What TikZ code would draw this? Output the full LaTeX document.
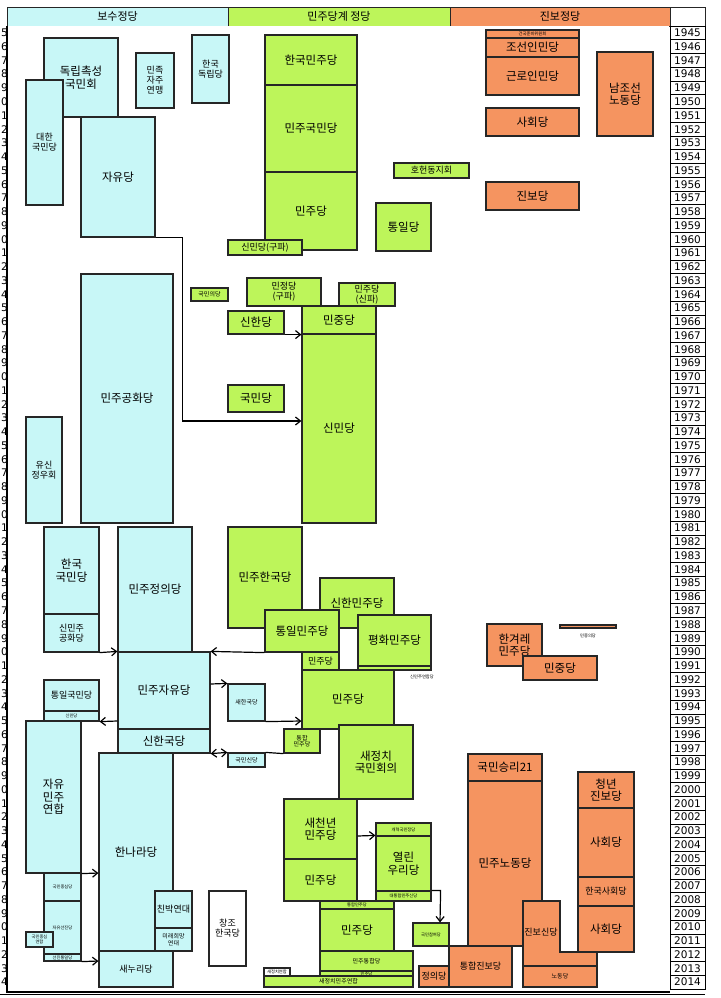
\documentclass[tikz,border=0pt]{standalone}
\usepackage{fontspec}
\setmainfont{Noto Sans CJK KR}
\newfontfamily\yrfont{DejaVu Sans}
\usetikzlibrary{arrows.meta}
\definecolor{cyb}{HTML}{C8F7F7}
\definecolor{grb}{HTML}{BDF55A}
\definecolor{orb}{HTML}{F59460}
\tikzset{
 bx/.style={draw=black!85,line width=1.2pt,inner sep=0pt,align=center,font=\fontsize{11.5}{12.5}\selectfont},
 cy/.style={bx,fill=cyb}, gr/.style={bx,fill=grb}, ob/.style={bx,fill=orb}, wh/.style={bx,fill=white},
 sm/.style={font=\fontsize{6}{6.5}\selectfont}, ti/.style={font=\fontsize{4.3}{4.6}\selectfont},
 md/.style={font=\fontsize{9}{10}\selectfont},
 ar/.style={line width=1.2pt,-{Straight Barb[length=5pt,width=8pt]}},
 ln/.style={line width=1.2pt}
}
\newcommand\pb[7]{\node[#1,minimum width={#5pt-#3pt},minimum height={#6pt-#4pt}] (#2) at ({(#3+#5)/2},{(#4+#6)/2}) {#7};}
\begin{document}
\begin{tikzpicture}[x=1pt,y=-1pt]
\useasboundingbox (0,0) rectangle (720,998);
\fill[white] (0,0) rectangle (720,998);
% header
\pb{cy,font=\fontsize{11}{12}\selectfont,line width=0.8pt}{h1}{7}{7}{228}{26}{보수정당}
\pb{gr,font=\fontsize{11}{12}\selectfont,line width=0.8pt}{h2}{228}{7}{450}{26}{민주당계 정당}
\pb{ob,font=\fontsize{11}{12}\selectfont,line width=0.8pt}{h3}{450}{7}{670}{26}{진보정당}
\pb{wh,line width=0.8pt}{h4}{670}{7}{705}{26}{}
% years
\foreach \i in {0,...,69}{
  \pgfmathtruncatemacro\yr{1945+\i}
  \pgfmathsetmacro\yt{26+13.757*\i}
  \pgfmathsetmacro\yb{26+13.757*(\i+1)}
  \node[draw,line width=0.7pt,minimum width=35pt,minimum height=13.757pt,inner sep=0pt,font=\yrfont\fontsize{10.5}{11}\selectfont] (y\i) at (687.5,{(\yt+\yb)/2}) {\yr};
  \pgfmathtruncatemacro\dg{mod(\yr,10)}
  \node[inner sep=0pt,font=\yrfont\fontsize{10.5}{11}\selectfont,anchor=east] (d\i) at (8,{(\yt+\yb)/2}) {\dg};
}
\fill[white] (8,26) rectangle (669,991);
\draw[line width=1.2pt] (7,26) -- (7,992) -- (670,992);
\draw[line width=0.6pt] (0,994) -- (705,994);
% conservative
\pb{cy}{dokrip}{44}{38}{118}{117}{독립촉성\\국민회}
\pb{cy,md}{minjok}{136}{53}{174}{108}{민족\\자주\\연맹}
\pb{cy,md}{handok}{192}{35}{229}{103}{한국\\독립당}
\pb{cy,md}{daehan}{26}{80}{63}{205}{대한\\국민당}
\pb{cy}{jayu}{81}{117}{155}{237}{자유당}
\pb{cy}{gonghwa}{81}{274}{173}{523}{민주공화당}
\pb{cy,md}{yusin}{26}{417}{62}{523}{유신\\정우회}
\pb{cy}{hanguk}{44}{527}{99}{614}{한국\\국민당}
\pb{cy,md}{sinminju}{44}{614}{99}{652}{신민주\\공화당}
\pb{cy}{jeongui}{118}{527}{192}{652}{민주정의당}
\pb{cy}{minja}{118}{652}{210}{729}{민주자유당}
\pb{cy}{sinhanguk}{118}{729}{210}{753}{신한국당}
\pb{cy,sm}{saehan}{228}{684}{265}{721}{새한국당}
\pb{cy,md}{tongilguk}{44}{680}{99}{711}{통일국민당}
\pb{cy,ti}{sinmin2}{44}{711}{99}{721}{신민당}
\pb{cy}{jamin}{26}{721}{81}{873}{자유\\민주\\연합}
\pb{cy,sm}{gukminsin}{228}{753}{265}{767}{국민신당}
\pb{cy}{hannara}{99}{753}{173}{951}{한나라당}
\pb{cy,md}{saenuri}{99}{951}{173}{987}{새누리당}
\pb{cy,md}{chinbak}{155}{891}{192}{928}{친박연대}
\pb{cy,sm}{mirae}{155}{928}{192}{951}{미래희망\\연대}
\pb{cy,ti}{jungsim}{44}{873}{81}{901}{국민중심당}
\pb{cy,ti}{seonjin}{44}{901}{81}{954}{자유선진당}
\pb{cy,ti}{seontong}{44}{954}{81}{961}{선진통일당}
\pb{cy,ti}{jungyeon}{26}{932}{53}{947}{국민중심\\연합}
\pb{wh,md}{changjo}{209}{891}{246}{966}{창조\\한국당}
% democratic
\pb{gr}{hanmin}{265}{35}{357}{85}{한국민주당}
\pb{gr}{minguk}{265}{85}{357}{172}{민주국민당}
\pb{gr}{minju1}{265}{172}{357}{250}{민주당}
\pb{gr,md}{sinmingu}{228}{240}{302}{255}{신민당(구파)}
\pb{gr,md}{hohun}{394}{163}{469}{178}{호헌동지회}
\pb{gr}{tongil}{376}{203}{431}{251}{통일당}
\pb{gr,sm}{gukui}{191}{288}{228}{301}{국민의당}
\pb{gr,md}{minjeong}{247}{278}{321}{306}{민정당\\(구파)}
\pb{gr,md}{minsin}{339}{283}{395}{306}{민주당\\(신파)}
\pb{gr}{minjung}{302}{306}{376}{334}{민중당}
\pb{gr}{sinhan}{228}{311}{284}{334}{신한당}
\pb{gr}{sinmin}{302}{334}{376}{523}{신민당}
\pb{gr}{gukmin}{228}{385}{284}{412}{국민당}
\pb{gr}{minhan}{228}{527}{302}{628}{민주한국당}
\pb{gr}{sinhanmin}{320}{578}{394}{628}{신한민주당}
\pb{gr}{tongilmin}{265}{610}{339}{652}{통일민주당}
\pb{gr}{pyeonghwa}{358}{615}{431}{666}{평화민주당}
\pb{gr}{sinyeon}{358}{666}{431}{670}{}
\node[ti,inner sep=0pt] (sinyeonl) at (422,677) {신민주연합당};
\pb{gr,md}{minju2}{302}{652}{339}{670}{민주당}
\pb{gr}{minju3}{302}{670}{394}{729}{민주당}
\pb{gr,sm}{tonghap1}{284}{729}{320}{753}{통합\\민주당}
\pb{gr}{saejeong}{339}{725}{413}{799}{새정치\\국민회의}
\pb{gr}{saecheon}{284}{799}{357}{859}{새천년\\민주당}
\pb{gr}{minju4}{284}{859}{357}{901}{민주당}
\pb{gr,ti}{gaehyeok}{376}{823}{431}{836}{개혁국민정당}
\pb{gr}{yeollin}{376}{836}{431}{891}{열린\\우리당}
\pb{gr,ti}{daetong}{376}{891}{431}{901}{대통합민주신당}
\pb{gr,ti}{tonghap2}{320}{901}{394}{909}{통합민주당}
\pb{gr}{minju5}{320}{909}{394}{951}{민주당}
\pb{gr,sm}{mintong}{320}{951}{413}{971}{민주통합당}
\pb{gr,ti}{minju6}{320}{971}{413}{976}{민주당}
\pb{gr,sm}{saejeongyeon}{264}{976}{413}{987}{새정치민주연합}
\pb{wh,ti}{saeyeon}{264}{968}{290}{976}{새정치연합}
\pb{gr,ti}{chamyeo}{413}{923}{449}{946}{국민참여당}
% progressive
\pb{ob,ti}{geonjun}{486}{30}{579}{38}{건국준비위원회}
\pb{ob}{joseon}{486}{38}{579}{57}{조선인민당}
\pb{ob}{geullo}{486}{57}{579}{95}{근로인민당}
\pb{ob}{namjo}{597}{52}{653}{136}{남조선\\노동당}
\pb{ob}{sahoe1}{486}{108}{579}{136}{사회당}
\pb{ob}{jinbo}{486}{182}{579}{210}{진보당}
\pb{ob}{hangyeore}{487}{624}{542}{666}{한겨레\\민주당}
\pb{ob}{minjung2}{523}{656}{597}{680}{민중당}
\pb{ob}{minjungui}{560}{625}{616}{628}{}
\node[ti,inner sep=0pt] (minjunguil) at (588,636) {민중의당};
\pb{ob}{seungri}{468}{754}{542}{781}{국민승리21}
\pb{ob}{minno}{468}{781}{542}{946}{민주노동당}
\pb{ob}{cheongnyeon}{578}{772}{634}{808}{청년\\진보당}
\pb{ob}{sahoe2}{578}{808}{634}{877}{사회당}
\pb{ob,md}{hansa}{578}{877}{634}{906}{한국사회당}
\pb{ob}{sahoe3}{578}{906}{634}{952}{사회당}
\draw[ob,fill=orb] (523,901) -- (560,901) -- (560,952) -- (597,952) -- (597,966) -- (523,966) -- cycle;
\node[md,inner sep=0pt] (jinbosin) at (541,932) {진보신당};
\pb{ob,sm}{nodong}{523}{966}{597}{987}{노동당}
\pb{ob,md}{tongjin}{449}{946}{512}{987}{통합진보당}
\pb{ob,md}{jeongui}{419}{966}{449}{987}{정의당}
% connectors
\draw[ar] (jayu.south east) -- ++(27,0) |- (sinmin.west|-0,421);
\draw[ar] (sinhan.south east) -- (minjung.south west);
\draw[ar] (sinminju.south east) -- (minja.north west);
\draw[ar] (tongilmin.south west) -- (minja.north east);
\draw[ar] (minja.east|-0,684) -- (saehan.north west);
\draw[ar] (saehan.south east) -- (minju3.west|-0,721);
\draw[ar] (minja.west|-0,721) -- (sinmin2.south east);
\draw[ln,{Straight Barb[length=5pt,width=8pt]}-{Straight Barb[length=5pt,width=8pt]}] (sinhanguk.south east) -- (gukminsin.north west);
\draw[ln] (gukminsin.north east) -- (tonghap1.south west);
\draw[ar] (jamin.south east) -- (hannara.west|-0,873);
\draw[ar] (seontong.south east) -- (saenuri.west|-0,961);
\draw[ar] (saecheon.east|-0,836) -- (yeollin.north west);
\draw[ar] (daetong.north east) -- ++(9,0) -- (chamyeo.north-|440,0);
\end{tikzpicture}
\end{document}
